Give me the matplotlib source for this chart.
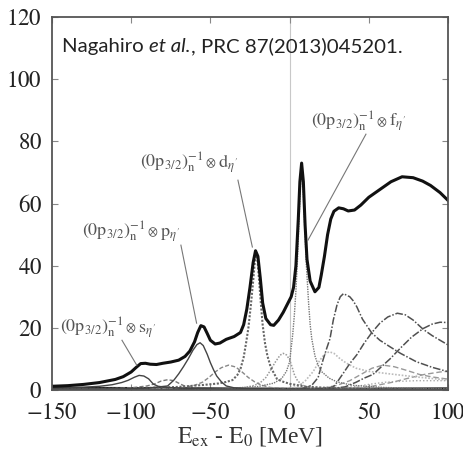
import matplotlib
matplotlib.use("Agg")
import matplotlib.pyplot as plt

plt.rcParams['mathtext.fontset'] = 'stix'
plt.rcParams['font.family'] = 'Liberation Serif'

# ---------------- data ----------------
total_x = [-150, -140, -130, -120, -110, -105, -100, -97, -94, -91, -88, -84, -80, -75, -70, -66, -63, -60, -58,
           -56, -54, -52, -50, -47, -44, -40, -35, -31, -29, -27, -25, -23, -21.5, -20, -18.5, -17, -15, -12, -10,
           -7, -4, -1, 1, 2.5, 4, 5.5, 6.5, 7.6, 8.7, 9.8, 11, 13, 16, 18.5, 20, 22, 24, 26, 28, 31, 34, 37, 41,
           45, 50, 57, 64, 71, 78, 84, 89, 95, 100]
total_y = [1.2, 1.4, 1.8, 2.4, 3.4, 4.3, 5.8, 7.2, 8.5, 8.6, 8.3, 8.2, 8.6, 9.0, 9.6, 10.8, 12.5, 15.5, 18.5,
           20.7, 20.3, 18.2, 16.0, 14.8, 15.1, 16.3, 17.2, 18.5, 21, 26, 33, 41, 44.8, 43, 36, 28, 23, 21, 20.8,
           22.5, 25, 28, 30, 33, 40, 55, 67, 73, 67, 53, 42, 35, 31.6, 33, 37, 43, 50, 55, 57.5, 58.6, 58.3, 57.6,
           57.9, 59.5, 62, 64.5, 67, 68.6, 68.3, 67.2, 65.8, 63.5, 61]

s_x = [-150, -130, -120, -112, -106, -102, -98, -95, -92, -89, -86, -83, -80, -76, -70, -60, -40, 0, 100]
s_y = [0.6, 0.9, 1.2, 1.7, 2.4, 3.1, 4.1, 4.7, 4.5, 3.6, 1.9, 1.2, 1.0, 0.8, 0.6, 0.5, 0.3, 0.2, 0.1]

bump_x = [-150, -120, -100, -90, -85, -81, -77, -73, -70, -66, -60, -40, 0, 100]
bump_y = [0.2, 0.3, 0.7, 1.3, 2.0, 2.9, 3.3, 3.0, 2.2, 1.2, 0.6, 0.3, 0.15, 0.1]

p_x = [-150, -100, -90, -77, -73, -70, -67, -64, -61, -58.5, -56.5, -54.5, -52, -50, -48, -46, -43, -40, -35,
       -25, 0, 100]
p_y = [0.2, 0.4, 0.6, 1.3, 3.2, 5.2, 7.5, 10, 12.8, 14.6, 15.2, 14.3, 11.5, 8.8, 6.5, 4.5, 2.6, 1.3, 0.7,
       0.4, 0.2, 0.1]

d_x = [-150, -100, -70, -55, -45, -40, -36, -33, -31, -29, -27.5, -26, -24.5, -23, -22, -21.2, -20.3, -19.2,
       -18, -17, -15.5, -14, -12, -10, -8, -5, 0, 10, 30, 100]
d_y = [0.2, 0.5, 1.0, 1.6, 2.1, 2.6, 3.2, 4.8, 6.8, 10.5, 15, 20, 27, 35, 41, 44, 42, 35, 27, 21, 15, 11,
       7.5, 5.5, 3.6, 2.8, 2.0, 1.1, 0.5, 0.2]

f_x = [-150, -40, -20, -10, -5, -2, 0, 2, 3, 4, 5, 6, 7, 7.6, 8.2, 9.2, 10.5, 12, 13, 14, 16, 18, 20, 25,
       30, 40, 60, 100]
f_y = [0.1, 0.5, 1.1, 2.2, 3.7, 6, 9, 18, 24, 32, 42, 55, 67, 71, 68, 57, 41, 28, 21, 16.5, 11, 8, 6, 3.8,
       2.6, 1.5, 0.8, 0.4]

c37_x = [-100, -70, -60, -55, -51, -47, -43, -38.5, -34, -30, -26, -22, -18, -12, 0, 100]
c37_y = [0.2, 0.6, 1.5, 2.5, 4, 5.8, 7.2, 8, 7.4, 5.8, 4, 2.6, 1.6, 0.8, 0.4, 0.1]

c3_x = [-60, -30, -22, -18, -15, -12.5, -9, -6, -4, -2, 0, 1.5, 3, 5, 8, 12, 20, 100]
c3_y = [0.2, 0.6, 1.5, 2.6, 4, 6, 9, 11.2, 11.8, 11.3, 9.8, 7.5, 5, 3, 1.6, 0.8, 0.4, 0.1]

c25_x = [-10, 5, 10, 15, 19, 22, 25, 28, 32, 36, 42, 50, 63, 80, 100]
c25_y = [0.3, 1, 3, 6, 9.5, 11.5, 12.3, 11.8, 10, 8.6, 7, 6, 5.2, 4.2, 3.2]

c35_x = [-50, 0, 8, 14, 18, 21.3, 23.5, 25.5, 27.6, 30, 32, 34, 36, 38, 40, 42.4, 46, 51.8, 57, 63.4, 70, 80,
         90, 100]
c35_y = [0.1, 0.3, 0.5, 1.5, 4, 10, 13.5, 16.5, 22.5, 27.5, 30, 31, 30.5, 30, 28.8, 26.8, 22.8, 18.4, 16,
         13.9, 11.8, 9.1, 7.3, 5.9]

c68_x = [0, 20, 27.6, 30, 33.9, 38, 42.4, 47, 51.8, 57, 62, 68, 73, 78, 84.4, 90, 95, 100]
c68_y = [0.1, 0.4, 1, 2.5, 5.4, 8.5, 11.3, 15, 18.4, 21.5, 23.5, 24.7, 24.2, 22.5, 19.5, 17.5, 16, 14.5]

c98_x = [0, 25, 35, 42, 47, 52.6, 58, 63.4, 70, 77, 84.4, 90, 95, 100]
c98_y = [0.1, 0.4, 1, 2.5, 3.8, 5, 7.5, 10, 13.5, 17, 19.8, 21.2, 21.8, 21.7]

c59_x = [0, 20, 30, 38, 45, 52, 59, 66, 74, 82, 90, 100]
c59_y = [0.2, 0.5, 1.5, 3, 5, 7, 8, 7.5, 6.3, 5, 4.2, 3.5]

c100_x = [20, 50, 65, 75, 85, 95, 100]
c100_y = [0.2, 1, 2.5, 3.8, 5, 5.8, 6]

cdot_x = [10, 40, 50, 60, 70, 80, 90, 100]
cdot_y = [0.2, 1, 1.8, 2.5, 2.8, 3, 3, 3]

base1_x = [-150, -100, -50, 0, 50, 100]
base1_y = [0.8, 0.7, 0.6, 0.5, 0.5, 0.6]
base2_x = [-150, -100, -50, 0, 50, 100]
base2_y = [0.3, 0.3, 0.25, 0.25, 0.3, 0.3]

xticks = [-150, -100, -50, 0, 50, 100]
yticks = [0, 20, 40, 60, 80, 100, 120]

label_head = r'$(0\mathrm{p}_{3/2})_\mathrm{n}^{-1}$'
label_tails = [r'$\mathrm{s}_{\eta^\prime}$', r'$\mathrm{p}_{\eta^\prime}$',
               r'$\mathrm{d}_{\eta^\prime}$', r'$\mathrm{f}_{\eta^\prime}$']
label_pos = [(-145, 18.6), (-131, 49.5), (-94.4, 71.7), (13.5, 85)]
leader_from = [(-105.8, 16), (-68.6, 46.6), (-32.6, 67.5), (48.2, 82.3)]
leader_to = [(-96.5, 8), (-58.7, 21.5), (-23.5, 46), (11.6, 48.2)]

SERIF = 'Liberation Serif'
SANS = 'Lato'

# ---------------- figure ----------------
fig = plt.figure(figsize=(4.64, 4.57), dpi=100)
ax = fig.add_axes([0.112, 0.1466, 0.8535, 0.8162])

ax.axvline(0, color='#c8c8c8', lw=0.8, zorder=1)

ax.plot(base1_x, base1_y, color='#222222', lw=1.2)
ax.plot(base2_x, base2_y, color='#222222', lw=1.2)
ax.plot(cdot_x, cdot_y, color='#aaaaaa', lw=1.0, ls=(0, (1, 1.5)))
ax.plot(c100_x, c100_y, color='#999999', lw=1.0, ls=(0, (4, 2)))
ax.plot(c59_x, c59_y, color='#999999', lw=1.0, ls=(0, (4, 2)))
ax.plot(c25_x, c25_y, color='#bbbbbb', lw=1.2, ls=(0, (1, 1)))
ax.plot(c3_x, c3_y, color='#999999', lw=1.1, ls=(0, (1, 1)))
ax.plot(c37_x, c37_y, color='#888888', lw=1.0, ls=(0, (3, 1.5)))
ax.plot(bump_x, bump_y, color='#777777', lw=1.0, ls=(0, (3, 1.5)))
ax.plot(c98_x, c98_y, color='#505050', lw=1.1, ls=(0, (5, 1.2, 1, 1.2)))
ax.plot(c68_x, c68_y, color='#505050', lw=1.1, ls=(0, (5, 1.2, 1, 1.2)))
ax.plot(c35_x, c35_y, color='#505050', lw=1.1, ls=(0, (5, 1.2, 1, 1.2)))
ax.plot(f_x, f_y, color='#777777', lw=1.0, ls=(0, (1, 0.8)))
ax.plot(d_x, d_y, color='#666666', lw=1.5, ls=(0, (1, 0.8)))
ax.plot(p_x, p_y, color='#444444', lw=1.0)
ax.plot(s_x, s_y, color='#444444', lw=1.0)
ax.plot(total_x, total_y, color='#111111', lw=2.2)

for (x0, y0), (x1, y1) in zip(leader_from, leader_to):
    ax.plot([x0, x1], [y0, y1], color='#777777', lw=0.8)

ax.set_xlim(-150, 100)
ax.set_ylim(0, 120)
ax.set_xticks(xticks)
ax.set_yticks(yticks)
# tick labels rendered through mathtext (STIX serif digits)
ax.set_xticklabels([r'$%d$' % v for v in xticks])
ax.set_yticklabels([r'$%d$' % v for v in yticks])
ax.tick_params(axis='x', direction='in', top=True, length=4, width=0.8, color='#888888',
               labelsize=16.5, labelcolor='#222222', pad=9)
ax.tick_params(axis='y', direction='in', right=True, length=4, width=0.8, color='#888888',
               labelsize=16.5, labelcolor='#222222', pad=7)
for sp in ax.spines.values():
    sp.set_color('#555555')
    sp.set_linewidth(1.3)

ax.set_xlabel(r'$\mathrm{E_{ex}}$ - $\mathrm{E_0}$ [MeV]', fontsize=17, color='#333333', labelpad=1,
              family=SERIF)

# labels: head, small circled-times, tail (chained at draw time)
for tail, (lx, ly) in zip(label_tails, label_pos):
    h = ax.text(lx, ly, label_head, fontsize=13, color='#555555', ha='left', va='baseline', family=SERIF)
    o = ax.annotate(r'$\otimes$', xy=(1, ly), xycoords=(h, 'data'), xytext=(1.5, 0.6),
                    textcoords='offset points', fontsize=8.5, color='#555555', ha='left', va='baseline',
                    family=SERIF)
    ax.annotate(tail, xy=(1, ly), xycoords=(o, 'data'), xytext=(1.2, 0), textcoords='offset points',
                fontsize=13, color='#555555', ha='left', va='baseline', family=SERIF)

# citation text
t1 = ax.text(-143.5, 108.8, 'Nagahiro ', fontsize=14.7, color='#222222', family=SANS,
             ha='left', va='baseline')
t2 = ax.annotate('et al.', xy=(1, 0), xycoords=t1, fontsize=14.7, color='#222222', style='italic',
                 family=SANS, ha='left', va='bottom')
t3 = ax.annotate(', PRC 87(2013)045201.', xy=(1, 0), xycoords=t2, fontsize=14.7, color='#222222',
                 family=SANS, ha='left', va='bottom')

fig.savefig('out.png', dpi=100)
